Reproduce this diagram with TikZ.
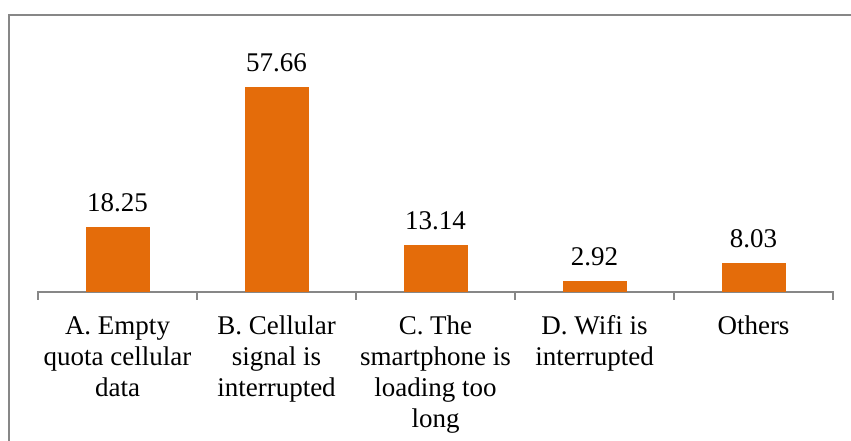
\documentclass[tikz,border=0pt]{standalone}
\usepackage{fontspec}
\setmainfont{Liberation Serif}

\definecolor{barorange}{HTML}{E46C0A}
\definecolor{axisgray}{HTML}{878787}

\tikzset{every picture/.style={line width=0.75pt}}
\tikzset{
  bar/.style={draw=barorange, fill=barorange, line width=0.75},
  axisline/.style={draw=axisgray, line width=1.5},
  vallabel/.style={anchor=base, inner sep=0pt, font=\fontsize{20.25}{23.25}\selectfont},
  catlabel/.style={anchor=north, inner sep=0pt, align=center, font=\fontsize{20.25}{23.25}\selectfont}
}

\begin{document}
\begin{tikzpicture}[x=0.75pt,y=0.75pt,yscale=-1,xscale=1]
	\useasboundingbox (0,0) rectangle (851,441);

	%Chart frame
	\draw [axisgray, line width=1.5]  (9,441) -- (9,15) -- (851,15) ;

	%Category axis with ticks
	\draw [axisline]  (38,300) -- (38,292) -- (833,292) -- (833,300) ;
	\draw [axisline]  (197,292) -- (197,300) ;
	\draw [axisline]  (356,292) -- (356,300) ;
	\draw [axisline]  (515,292) -- (515,300) ;
	\draw [axisline]  (674,292) -- (674,300) ;

	%Bars (3.538 px per percent)
	\draw [bar]  (86,227.4) rectangle (149,292) ;
	\draw [bar]  (245,88) rectangle (308,292) ;
	\draw [bar]  (404,245.5) rectangle (467,292) ;
	\draw [bar]  (563,281.7) rectangle (626,292) ;
	\draw [bar]  (722,263.6) rectangle (785,292) ;

	%Values
	\node [vallabel] (vA) at (117.5,211.4) {18.25};
	\node [vallabel] (vB) at (276.5,72) {57.66};
	\node [vallabel] (vC) at (435.5,229.5) {13.14};
	\node [vallabel] (vD) at (594.5,265.7) {2.92};
	\node [vallabel] (vE) at (753.5,247.6) {8.03};

	%Category names (first baseline at 334)
	\node [catlabel] (cA) at (117.5,312.3) {\strut A. Empty\\quota cellular\\data};
	\node [catlabel] (cB) at (276.5,312.3) {\strut B. Cellular\\signal is\\interrupted};
	\node [catlabel] (cC) at (435.5,312.3) {\strut C. The\\smartphone is\\loading too\\long};
	\node [catlabel] (cD) at (594.5,312.3) {\strut D. Wifi is\\interrupted};
	\node [catlabel] (cE) at (753.5,312.3) {\strut Others};

\end{tikzpicture}
\end{document}
